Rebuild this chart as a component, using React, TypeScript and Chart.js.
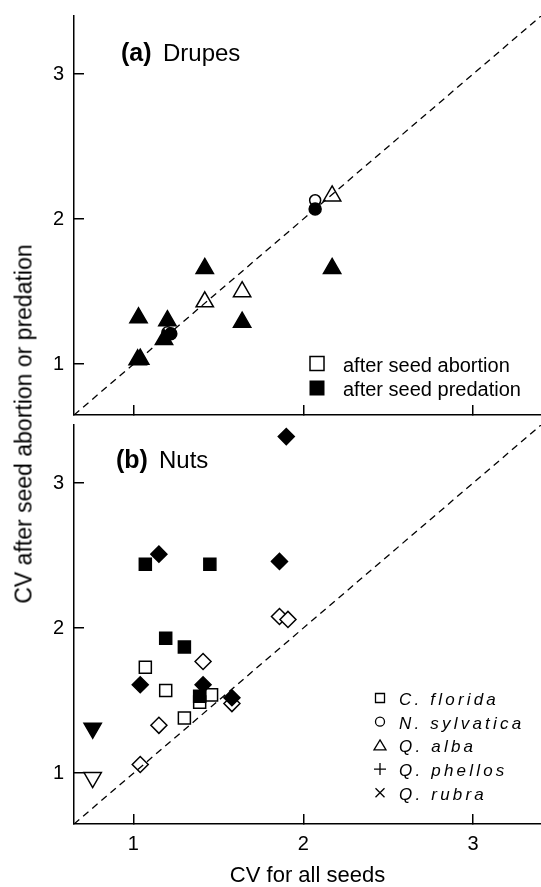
import React, { useEffect, useRef } from 'react';
import { Chart, registerables } from 'chart.js';

Chart.register(...registerables);

const FONT = '"Liberation Sans", Arial, Helvetica, sans-serif';

// Axis range and ticks (both panels, both axes)
const AXIS_MIN = 0.65;
const AXIS_MAX = 3.4;
const TICK_VALUES = [1, 2, 3];

// Texts
const X_TITLE = 'CV for all seeds';
const Y_TITLE = 'CV after seed abortion or predation';
const PANEL_A = ['(a)', 'Drupes'];
const PANEL_B = ['(b)', 'Nuts'];
const treatmentLabels = ['after seed abortion', 'after seed predation'];
const speciesLabels = ['C. florida', 'N. sylvatica', 'Q. alba', 'Q. phellos', 'Q. rubra'];
const speciesSymbols = ['square', 'circle', 'triangle', 'plus', 'cross'];

// (a) Drupes
const drupeAbortTriangleX = [1.42, 1.64, 2.17];
const drupeAbortTriangleY = [1.43, 1.5, 2.16];
const drupeAbortCircleX = [2.07, 1.2];
const drupeAbortCircleY = [2.13, 1.22];
const drupePredTriangleX = [1.42, 2.17, 1.03, 1.2, 1.64, 1.18, 1.025, 1.04];
const drupePredTriangleY = [1.66, 1.66, 1.32, 1.3, 1.29, 1.17, 1.03, 1.035];
const drupePredCircleX = [2.07, 1.22];
const drupePredCircleY = [2.07, 1.21];

// (b) Nuts
const nutAbortSquareX = [1.07, 1.19, 1.46, 1.39, 1.3];
const nutAbortSquareY = [1.73, 1.57, 1.54, 1.49, 1.38];
const nutPredSquareX = [1.07, 1.45, 1.19, 1.3, 1.39];
const nutPredSquareY = [2.44, 2.44, 1.93, 1.87, 1.53];
const nutAbortDiamondX = [1.86, 1.91, 1.41, 1.58, 1.15, 1.04];
const nutAbortDiamondY = [2.08, 2.06, 1.77, 1.48, 1.33, 1.06];
const nutPredDiamondX = [1.9, 1.15, 1.86, 1.04, 1.41, 1.58];
const nutPredDiamondY = [3.32, 2.51, 2.46, 1.61, 1.61, 1.52];
const nutAbortInvTriX = [0.76];
const nutAbortInvTriY = [0.97];
const nutPredInvTriX = [0.76];
const nutPredInvTriY = [1.31];

const pts = (xs: number[], ys: number[]) => xs.map((x, i) => ({ x, y: ys[i] }));

function marker(label: string, xs: number[], ys: number[], style: string, filled: boolean, radius: number, rotation = 0) {
  const fill = filled ? '#000' : '#fff';
  return {
    label,
    data: pts(xs, ys),
    showLine: false,
    pointStyle: style,
    pointRadius: radius,
    pointHoverRadius: radius,
    pointRotation: rotation,
    backgroundColor: fill,
    pointBackgroundColor: fill,
    borderColor: '#000',
    pointBorderColor: '#000',
    pointBorderWidth: 1.5,
    borderWidth: 1.5,
  };
}

function diagonal() {
  return {
    label: '1:1',
    data: [
      { x: AXIS_MIN, y: AXIS_MIN },
      { x: AXIS_MAX, y: AXIS_MAX },
    ],
    showLine: true,
    borderColor: '#000',
    borderWidth: 1.3,
    borderDash: [7, 5],
    pointRadius: 0,
    fill: false,
  };
}

const ZERO_PAD = () => ({ left: 0, top: 0, right: 0, bottom: 0 });

function resetPadding(s: any) {
  s.paddingLeft = 0;
  s.paddingRight = 0;
  s.paddingTop = 0;
  s.paddingBottom = 0;
  s.getPadding = ZERO_PAD;
}

function makeOptions(showXLabels: boolean, padTop: number, xHeight: number) {
  const tickFont = { family: FONT, size: 20, lineHeight: 1 };
  return {
    animation: false,
    responsive: false,
    maintainAspectRatio: false,
    events: [],
    layout: { autoPadding: false, padding: { top: padTop, left: 0, right: 0, bottom: 0 } },
    plugins: { legend: { display: false }, tooltip: { enabled: false }, title: { display: false } },
    scales: {
      x: {
        type: 'linear',
        position: 'bottom',
        min: AXIS_MIN,
        max: AXIS_MAX,
        afterBuildTicks: (s: any) => {
          s.ticks = TICK_VALUES.map((v) => ({ value: v }));
        },
        afterFit: (s: any) => {
          s.height = xHeight;
          resetPadding(s);
        },
        border: { display: true, color: '#000', width: 1.5 },
        grid: { display: true, drawOnChartArea: false, drawTicks: true, tickLength: -10, color: '#000', lineWidth: 1.5 },
        ticks: { display: showXLabels, padding: 20, color: '#000', font: tickFont, maxRotation: 0 },
        title: {
          display: showXLabels,
          text: X_TITLE,
          color: '#000',
          font: { family: FONT, size: 22, lineHeight: 1 },
          padding: 0,
        },
      },
      y: {
        type: 'linear',
        position: 'left',
        min: AXIS_MIN,
        max: AXIS_MAX,
        afterBuildTicks: (s: any) => {
          s.ticks = TICK_VALUES.map((v) => ({ value: v }));
        },
        afterFit: (s: any) => {
          s.width = 74;
          resetPadding(s);
        },
        border: { display: true, color: '#000', width: 1.5 },
        grid: { display: true, drawOnChartArea: false, drawTicks: true, tickLength: -10, color: '#000', lineWidth: 1.5 },
        ticks: { display: true, padding: 20, color: '#000', font: tickFont },
      },
    },
  };
}

function drawSymbol(ctx: CanvasRenderingContext2D, kind: string, x: number, y: number) {
  ctx.beginPath();
  if (kind === 'square') {
    ctx.rect(x - 4.5, y - 4.5, 9, 9);
  } else if (kind === 'circle') {
    ctx.arc(x, y, 4.5, 0, Math.PI * 2);
  } else if (kind === 'triangle') {
    ctx.moveTo(x, y - 5.5);
    ctx.lineTo(x + 6, y + 4.5);
    ctx.lineTo(x - 6, y + 4.5);
    ctx.closePath();
  } else if (kind === 'plus') {
    ctx.moveTo(x - 6, y);
    ctx.lineTo(x + 6, y);
    ctx.moveTo(x, y - 6);
    ctx.lineTo(x, y + 6);
  } else if (kind === 'cross') {
    ctx.moveTo(x - 4.5, y - 4.5);
    ctx.lineTo(x + 4.5, y + 4.5);
    ctx.moveTo(x + 4.5, y - 4.5);
    ctx.lineTo(x - 4.5, y + 4.5);
  }
  ctx.stroke();
}

const drupesPlugin = {
  id: 'drupesAnnotations',
  afterDraw(chart: any) {
    const ctx: CanvasRenderingContext2D = chart.ctx;
    ctx.save();
    ctx.fillStyle = '#000';
    ctx.strokeStyle = '#000';
    ctx.textAlign = 'left';
    ctx.textBaseline = 'alphabetic';
    ctx.font = `bold 25px ${FONT}`;
    ctx.fillText(PANEL_A[0], 121, 61);
    ctx.font = `24px ${FONT}`;
    ctx.fillText(PANEL_A[1], 163, 61);

    // treatment legend
    ctx.lineWidth = 1.5;
    ctx.strokeRect(310, 356.5, 14, 14);
    ctx.fillRect(309.5, 380.5, 15, 15);
    ctx.font = `20px ${FONT}`;
    ctx.fillText(treatmentLabels[0], 343, 372);
    ctx.fillText(treatmentLabels[1], 343, 396);
    ctx.restore();
  },
};

const nutsPlugin = {
  id: 'nutsAnnotations',
  afterDraw(chart: any) {
    const ctx: any = chart.ctx;
    ctx.save();
    ctx.fillStyle = '#000';
    ctx.strokeStyle = '#000';
    ctx.textAlign = 'left';
    ctx.textBaseline = 'alphabetic';
    ctx.font = `bold 25px ${FONT}`;
    ctx.fillText(PANEL_B[0], 116, 48);
    ctx.font = `24px ${FONT}`;
    ctx.fillText(PANEL_B[1], 159, 48);

    // species legend
    ctx.lineWidth = 1.3;
    ctx.font = `italic 17px ${FONT}`;
    if ('letterSpacing' in ctx) ctx.letterSpacing = '3.2px';
    speciesLabels.forEach((lab, i) => {
      const cy = 278 + i * 23.7;
      drawSymbol(ctx, speciesSymbols[i], 380, cy);
      ctx.fillText(lab, 399, cy + 7);
    });
    ctx.restore();
  },
};

export default function App() {
  const topRef = useRef<HTMLCanvasElement>(null);
  const botRef = useRef<HTMLCanvasElement>(null);

  useEffect(() => {
    const top = new Chart(topRef.current as HTMLCanvasElement, {
      type: 'scatter',
      data: {
        datasets: [
          diagonal(),
          marker('predation, circle', drupePredCircleX, drupePredCircleY, 'circle', true, 6),
          marker('predation, triangle', drupePredTriangleX, drupePredTriangleY, 'triangle', true, 10),
          marker('abortion, circle', drupeAbortCircleX, drupeAbortCircleY, 'circle', false, 5.5),
          marker('abortion, triangle', drupeAbortTriangleX, drupeAbortTriangleY, 'triangle', false, 10),
        ] as any,
      },
      options: makeOptions(false, 16, 5) as any,
      plugins: [drupesPlugin],
    });
    const bottom = new Chart(botRef.current as HTMLCanvasElement, {
      type: 'scatter',
      data: {
        datasets: [
          diagonal(),
          marker('predation, diamond', nutPredDiamondX, nutPredDiamondY, 'rectRot', true, 8),
          marker('predation, square', nutPredSquareX, nutPredSquareY, 'rect', true, 8.5),
          marker('predation, inverted triangle', nutPredInvTriX, nutPredInvTriY, 'triangle', true, 10, 180),
          marker('abortion, square', nutAbortSquareX, nutAbortSquareY, 'rect', false, 8.5),
          marker('abortion, diamond', nutAbortDiamondX, nutAbortDiamondY, 'rectRot', false, 8),
          marker('abortion, inverted triangle', nutAbortInvTriX, nutAbortInvTriY, 'triangle', false, 10, 180),
        ] as any,
      },
      options: makeOptions(true, 5, 63) as any,
      plugins: [nutsPlugin],
    });
    return () => {
      top.destroy();
      bottom.destroy();
    };
  }, []);

  return (
    <div style={{ position: 'absolute', left: 0, top: 0, width: 541, height: 887, background: '#fff', overflow: 'hidden' }}>
      <canvas ref={topRef} width={541} height={420} style={{ position: 'absolute', left: 0, top: 0, display: 'block' }} />
      <canvas ref={botRef} width={541} height={467} style={{ position: 'absolute', left: 0, top: 420, display: 'block' }} />
      <div
        style={{
          position: 'absolute',
          left: 24,
          top: 424,
          transform: 'translate(-50%, -50%) rotate(-90deg)',
          whiteSpace: 'nowrap',
          font: `23px ${FONT}`,
          color: '#000',
        }}
      >
        {Y_TITLE}
      </div>
    </div>
  );
}
